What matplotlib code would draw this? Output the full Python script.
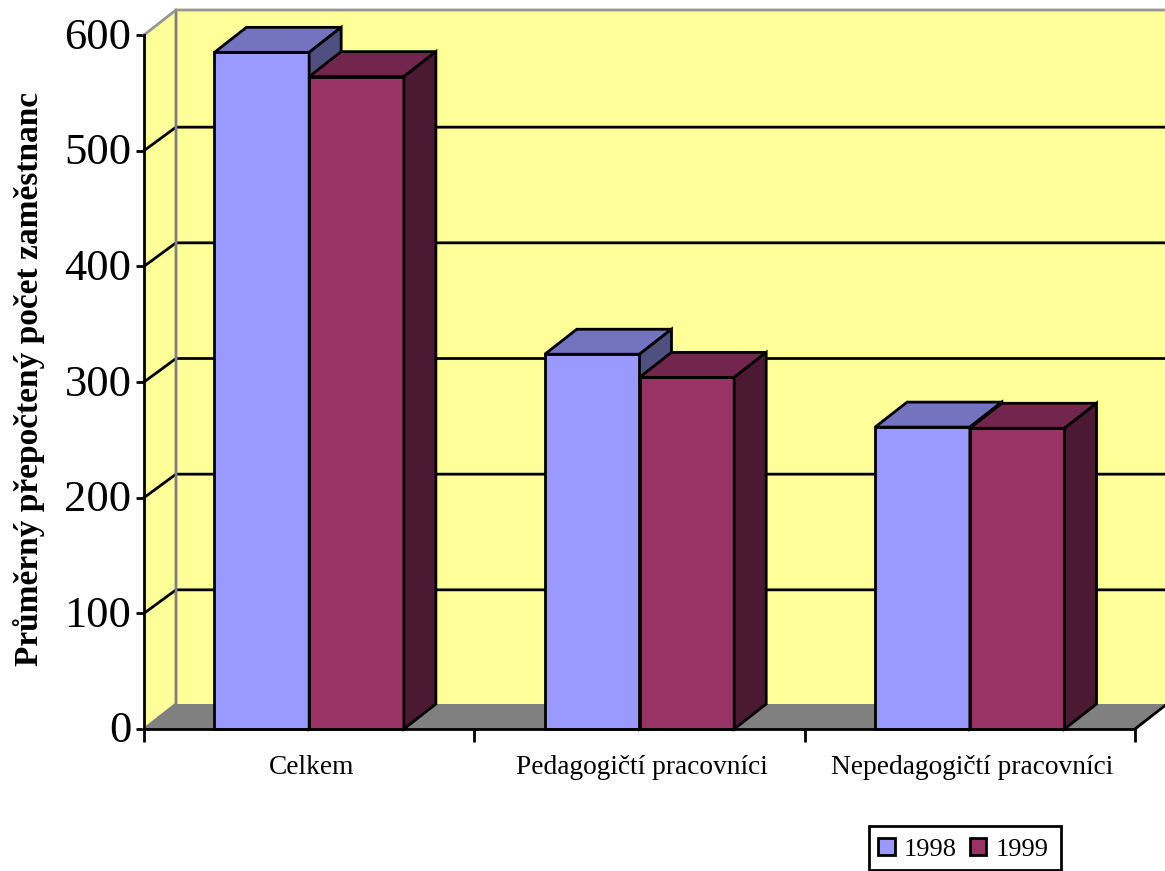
import matplotlib
matplotlib.use('Agg')
import matplotlib.pyplot as plt
from matplotlib.patches import Polygon, Patch, Rectangle
from matplotlib.transforms import ScaledTranslation

plt.rcParams['font.family'] = ['Liberation Serif', 'DejaVu Serif']

categories = ['Celkem', 'Pedagogičtí pracovníci', 'Nepedagogičtí pracovníci']
values_1998 = [585, 324, 261]
values_1999 = [564, 304, 260]
y_ticks = [0, 100, 200, 300, 400, 500, 600]
legend_labels = ['1998', '1999']

W, H = 1165, 871
LEFT, RIGHT, TOP, BOTTOM = 144, 1135, 35, 729

fig = plt.figure(figsize=(W / 100, H / 100), dpi=100, facecolor='white')
ax = fig.add_axes([LEFT / W, 1 - BOTTOM / H, (RIGHT - LEFT) / W, (BOTTOM - TOP) / H])
ax.set_xlim(0, 3)
ax.set_ylim(0, 600)
ax.patch.set_visible(False)

# depth of the fake 3d box, in data units
dx = 32 / ((RIGHT - LEFT) / 3)
dy = 25 / ((BOTTOM - TOP) / 600)
grid_dy = 23.5 / ((BOTTOM - TOP) / 600)
bar_w = 0.2867
lw = 2.0


def poly(pts, face, edge='black', width=lw, z=2):
    ax.add_patch(Polygon(pts, closed=True, facecolor=face, edgecolor=edge,
                         linewidth=width, clip_on=False, zorder=z, joinstyle='miter'))


def bar3d(x0, val, front, top, side):
    x1 = x0 + bar_w
    poly([(x0, 0), (x1, 0), (x1, val), (x0, val)], front, z=4)
    poly([(x0, val), (x1, val), (x1 + dx, val + dy), (x0 + dx, val + dy)], top, z=4)
    poly([(x1, 0), (x1 + dx, dy), (x1 + dx, val + dy), (x1, val)], side, z=4)


# walls and floor
poly([(dx, dy), (3 + dx, dy), (3 + dx, 600 + dy), (dx, 600 + dy)], '#FFFF99', edge='none', z=1)
poly([(0, 0), (dx, dy), (dx, 600 + dy), (0, 600)], '#FFFF99', edge='none', z=1)
poly([(0, 0), (3, 0), (3 + dx, dy), (dx, dy)], '#808080', edge='none', z=1)

# gridlines
for t in y_ticks[1:-1]:
    ax.plot([0, dx, 3 + dx], [t, t + grid_dy, t + grid_dy], color='black', lw=lw, clip_on=False, zorder=2)
ax.plot([0, dx, dx], [0, dy, 600 + dy], color='#808080', lw=lw, clip_on=False, zorder=2)
ax.plot([0, dx, 3 + dx], [600, 600 + dy, 600 + dy], color='#969696', lw=lw, clip_on=False, zorder=2)
ax.plot([3, 3 + dx], [0, dy], color='black', lw=lw, clip_on=False, zorder=3)

for i in range(len(categories)):
    c = i + 0.5
    bar3d(c - bar_w, values_1998[i], '#9999FF', '#7373BF', '#4F4F80')
    bar3d(c, values_1999[i], '#993366', '#73264D', '#4C1933')

for s in ['top', 'right']:
    ax.spines[s].set_visible(False)
for s in ['left', 'bottom']:
    ax.spines[s].set_linewidth(lw)
    ax.spines[s].set_zorder(5)

ax.set_yticks(y_ticks)
ax.tick_params(axis='y', labelsize=32, length=6, width=lw, pad=3)
# tick labels sit a little higher than the ticks
shift_up = ScaledTranslation(0, 2 / 100, fig.dpi_scale_trans)
for lab in ax.get_yticklabels():
    lab.set_transform(lab.get_transform() + shift_up)
ax.set_xticks([0, 1, 2, 3])
ax.set_xticklabels([])
ax.tick_params(axis='x', length=9.5, width=lw)
for i, name in enumerate(categories):
    ax.text(i + 0.507, -33, name, ha='center', va='center', fontsize=19.7, clip_on=False)

fig.text(29 / W, 1 - 379 / H, 'Průměrný přepočtený počet zaměstnanc', rotation=90,
         ha='center', va='center', fontsize=24, fontweight='bold')

# legend box drawn separately, right padding is wider than the left one
fig.add_artist(Rectangle((869 / W, 1 - 870 / H), 192 / W, 44 / H, transform=fig.transFigure,
                         facecolor='white', edgecolor='black', linewidth=lw))
handles = [Patch(facecolor='#9999FF', edgecolor='black', linewidth=lw),
           Patch(facecolor='#993366', edgecolor='black', linewidth=lw)]
leg = fig.legend(handles, legend_labels, ncol=2, loc='lower left',
                 bbox_to_anchor=(869 / W, 1 - 870 / H), bbox_transform=fig.transFigure,
                 fontsize=19, frameon=False,
                 handlelength=0.62, handleheight=0.62, handletextpad=0.35, columnspacing=0.5,
                 borderpad=0.35, borderaxespad=0)

fig.savefig('out.png', dpi=100)
